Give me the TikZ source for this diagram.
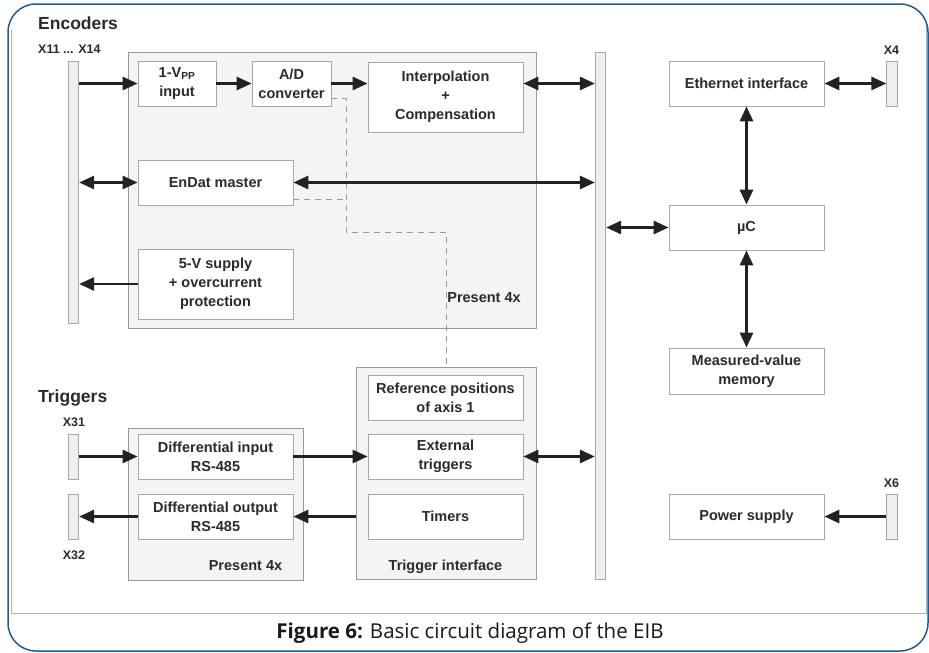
\documentclass[tikz,border=0pt]{standalone}
\usepackage{fontspec}
\setmainfont{Liberation Sans}
\newfontfamily\capfont{Open Sans}
\usetikzlibrary{arrows.meta,calc}
\definecolor{txt}{HTML}{2B2B2B}
\definecolor{frameblue}{HTML}{1E5C97}
\definecolor{boxline}{HTML}{A8A8A8}
\definecolor{panel}{HTML}{F4F4F4}
\definecolor{panelline}{HTML}{9A9A9A}
\definecolor{barfill}{HTML}{EFEFEF}
\definecolor{arrowc}{HTML}{222222}
\tikzset{
 box/.style={draw=boxline, fill=white, line width=0.8pt, align=center, inner sep=0pt, font=\fontsize{14.5}{19}\selectfont\bfseries, text=txt},
 panelbox/.style={draw=panelline, fill=panel, line width=0.8pt, inner sep=0pt},
 bar/.style={draw=boxline, fill=barfill, line width=0.8pt, inner sep=0pt, minimum width=10.5pt},
 arr/.style={line width=2.8pt, draw=arrowc, -{Triangle[length=15pt,width=13pt]}},
 darr/.style={line width=2.8pt, draw=arrowc, {Triangle[length=15pt,width=13pt]}-{Triangle[length=15pt,width=13pt]}},
 dashline/.style={draw=gray!80, line width=0.8pt, dash pattern=on 6pt off 5pt},
 lbl/.style={font=\fontsize{14.5}{17}\selectfont\bfseries, text=txt, inner sep=0pt, anchor=base},
 head/.style={font=\fontsize{17.5}{20}\selectfont\bfseries, text=txt, inner sep=0pt, anchor=base west},
 small/.style={font=\fontsize{12.5}{15}\selectfont\bfseries, text=txt, inner sep=0pt, anchor=base},
}
\begin{document}
\begin{tikzpicture}[x=1pt,y=-1pt]
\useasboundingbox (0,0) rectangle (929,653);
% frames
\draw[gray!60, line width=0.8pt] (11,30) -- (11,613) -- (926,613) -- (926,25);
\draw[frameblue, line width=1.5pt, rounded corners=28pt] (8,4) rectangle (928,651);
% caption
\node[font=\capfont\fontsize{20.5}{24}\selectfont, text=black!90] (caption) at (470,633) {\textbf{Figure 6:} Basic circuit diagram of the EIB};
% headings
\node[head] (tenc) at (38,29) {Encoders};
\node[head] (ttrig) at (38,402) {Triggers};
\node[small, anchor=base west] (tx11) at (38,53) {X11 ... X14};
\node[small] (tx31) at (74,426) {X31};
\node[small] (tx32) at (74,559) {X32};
\node[small] (tx4) at (891.5,54.5) {X4};
\node[small] (tx6) at (891.5,487) {X6};
% panels
\node[panelbox, minimum width=408pt, minimum height=276pt] (encp) at (332,190) {};
\node[panelbox, minimum width=175pt, minimum height=152pt] (trp) at (215.5,504) {};
\node[panelbox, minimum width=180pt, minimum height=212pt] (trig) at (446,473) {};
\node[lbl] (tp1) at (484,302) {Present 4x};
\node[lbl] (tp2) at (245.5,570) {Present 4x};
\node[lbl] (tp3) at (445.5,570) {Trigger interface};
% bars
\node[bar, minimum height=262pt] (encbar) at (73.5,192) {};
\node[bar, minimum height=527pt] (bus) at (600.5,315.5) {};
\node[bar, minimum height=45pt] (x31) at (73.5,456.5) {};
\node[bar, minimum height=45pt] (x32) at (73.5,516.5) {};
\node[bar, minimum height=45pt] (x4) at (892,83.5) {};
\node[bar, minimum height=45pt] (x6) at (892,516.5) {};
% boxes
\node[box, minimum width=78pt, minimum height=45pt] (vpp) at (177,83.5) {1-V\textsubscript{PP}\\input};
\node[box, minimum width=79pt, minimum height=45pt] (ad) at (291.5,83.5) {A/D\\converter};
\node[box, minimum width=155pt, minimum height=70pt] (interp) at (445.5,97) {Interpolation\\+\\Compensation};
\node[box, minimum width=155pt, minimum height=45pt] (endat) at (215.5,182.5) {EnDat master};
\node[box, minimum width=155pt, minimum height=70pt] (supply) at (215.5,284) {5-V supply\\+ overcurrent\\protection};
\node[box, minimum width=155pt, minimum height=45pt] (diffin) at (215.5,456.5) {Differential input\\RS-485};
\node[box, minimum width=155pt, minimum height=45pt] (diffout) at (215.5,516.5) {Differential output\\RS-485};
\node[box, minimum width=155pt, minimum height=45pt] (refpos) at (445.5,397.5) {Reference positions\\of axis 1};
\node[box, minimum width=155pt, minimum height=45pt] (exttrig) at (445.5,456.5) {External\\triggers};
\node[box, minimum width=155pt, minimum height=45pt] (timers) at (445.5,516.5) {Timers};
\node[box, minimum width=155pt, minimum height=45pt] (eth) at (746.5,83.5) {Ethernet interface};
\node[box, minimum width=155pt, minimum height=45pt] (uc) at (746.5,227.5) {µC};
\node[box, minimum width=155pt, minimum height=46pt] (mem) at (746.5,371) {Measured-value\\memory};
\node[box, minimum width=155pt, minimum height=45pt] (power) at (746.5,516.5) {Power supply};
% dashed lines
\coordinate (d1) at (346,232);
\coordinate (a1) at ([yshift=8pt]ad.south east);
\coordinate (e1) at ([yshift=6pt]endat.south east);
\draw[dashline] (a1) -| (d1) -| (trig.north);
\draw[dashline] (e1) -- (e1 -| d1);
% arrows
\draw[arr] (encbar.east |- vpp.west) -- (vpp.west);
\draw[arr] (vpp.east) -- (ad.west);
\draw[arr] (ad.east) -- (ad.east -| interp.west);
\draw[darr] (ad.east -| interp.east) -- (ad.east -| bus.west);
\draw[darr] (encbar.east |- endat.west) -- (endat.west);
\draw[darr] (endat.east) -- (endat.east -| bus.west);
\draw[arr] (supply.west) -- (supply.west -| encbar.east);
\draw[arr] (x31.east) -- (diffin.west);
\draw[arr] (diffout.west) -- (x32.east);
\draw[arr] (diffin.east) -- (exttrig.west);
\draw[arr] (trig.west |- timers.west) -- (diffout.east);
\draw[darr] (exttrig.east) -- (exttrig.east -| bus.west);
\draw[darr] (bus.east |- uc.west) -- (uc.west);
\draw[darr] (eth.east) -- (x4.west);
\draw[darr] (eth.south) -- (uc.north);
\draw[darr] (uc.south) -- (mem.north);
\draw[arr] (x6.west) -- (power.east);
\end{tikzpicture}
\end{document}
